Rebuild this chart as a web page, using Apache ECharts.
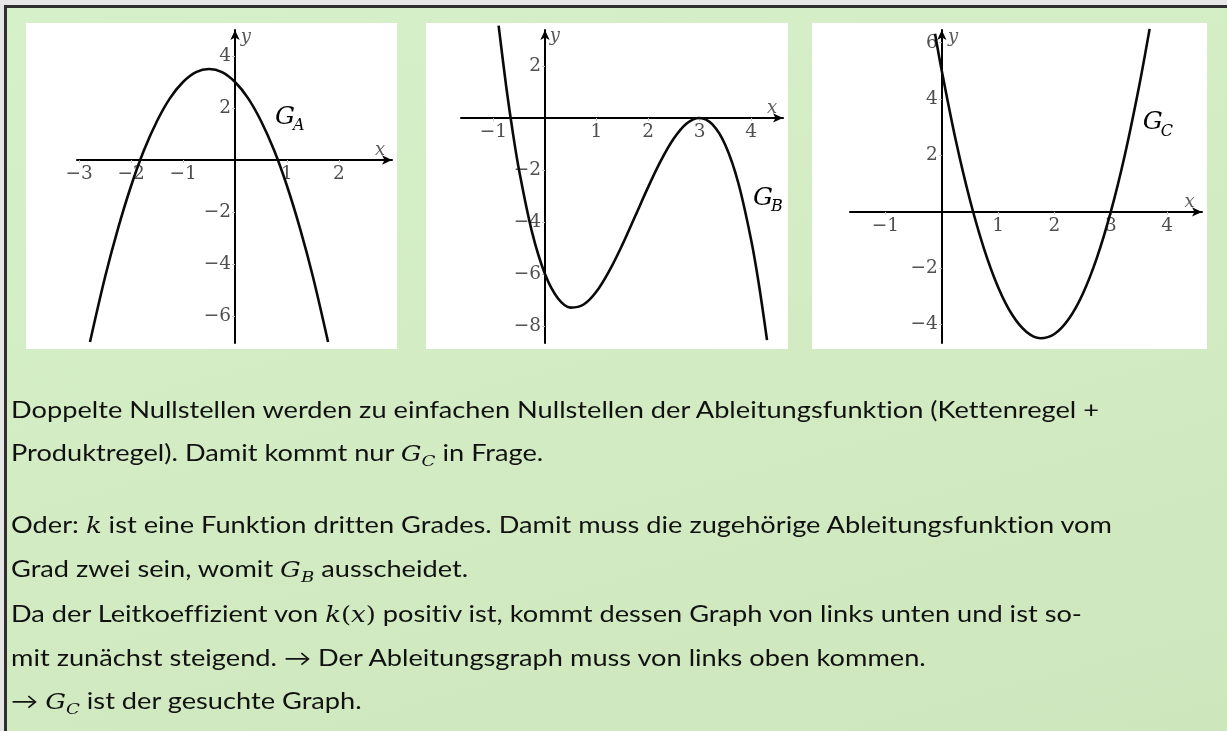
<!DOCTYPE html>
<html>
<head>
<meta charset="utf-8">
<script src="https://cdn.jsdelivr.net/npm/echarts@6/dist/echarts.min.js"></script>
<style>
  html, body { margin: 0; padding: 0; width: 1227px; height: 731px; overflow: hidden; background: #e6e6e6; }
  #frame {
    position: absolute; left: 4px; top: 5px; right: 0; bottom: 0;
    border-left: 3px solid #2f2f2f; border-top: 3px solid #2f2f2f;
    background: linear-gradient(165deg, #d6f0ca 0%, #d2ebc2 55%, #cee6bc 100%);
  }
  .panel { position: absolute; top: 23px; height: 326px; background: #fff; }
  #chart { position: absolute; left: 0; top: 0; width: 1227px; height: 731px; }
  .line {
    position: absolute; left: 11px; white-space: nowrap;
    font-family: Lato, 'Open Sans', sans-serif; font-size: 22.5px; line-height: 30px;
    font-variant-ligatures: none; font-feature-settings: "liga" 0, "dlig" 0;
    color: #111; transform-origin: 0 0;
  }
  .m { font-family: 'DejaVu Serif', serif; font-style: italic; font-size: 21.5px; }
  .u { font-style: normal; }
  .m sub { font-size: 15px; vertical-align: -5px; line-height: 0; }
</style>
</head>
<body>
<div id="frame"></div>
<div class="panel" style="left:26px;width:371px"></div>
<div class="panel" style="left:426px;width:362px"></div>
<div class="panel" style="left:812px;width:395px"></div>
<div id="chart"></div>

<div class="line" style="top:395px">Doppelte Nullstellen werden zu einfachen Nullstellen der Ableitungsfunktion (Kettenregel +</div>
<div class="line" style="top:438px">Produktregel). Damit kommt nur <span class="m">G<sub>C</sub></span> in Frage.</div>
<div class="line" style="top:510px">Oder: <span class="m">k</span> ist eine Funktion dritten Grades. Damit muss die zugehörige Ableitungsfunktion vom</div>
<div class="line" style="top:554px">Grad zwei sein, womit <span class="m">G<sub>B</sub></span> ausscheidet.</div>
<div class="line" style="top:599px">Da der Leitkoeffizient von <span class="m">k<span class="u">(</span>x<span class="u">)</span></span> positiv ist, kommt dessen Graph von links unten und ist so-</div>
<div class="line" style="top:643px">mit zunächst steigend. → Der Ableitungsgraph muss von links oben kommen.</div>
<div class="line" style="top:686px">→ <span class="m">G<sub>C</sub></span> ist der gesuchte Graph.</div>

<script>
// Curve G_A: downward parabola
const xsA = [-2.79, -2.5, -2.25, -2.0, -1.75, -1.5, -1.25, -1.0, -0.75, -0.5, -0.25, 0, 0.25, 0.5, 0.75, 1.0, 1.25, 1.5, 1.79];
const ysA = [-7.0, -4.5, -2.63, -1.0, 0.38, 1.5, 2.38, 3.0, 3.38, 3.5, 3.38, 3.0, 2.38, 1.5, 0.38, -1.0, -2.63, -4.5, -7.0];

// Curve G_B: cubic with a double zero at x = 3
const xsB = [-0.9, -0.75, -0.625, -0.5, -0.25, 0, 0.25, 0.5, 0.75, 1.0, 1.25, 1.5, 1.75, 2.0, 2.25, 2.5, 2.75, 3.0, 3.25, 3.5, 3.75, 4.0, 4.15, 4.31];
const ysB = [3.55, 1.17, -0.55, -2.04, -4.40, -6.0, -6.93, -7.29, -7.17, -6.67, -5.87, -4.88, -3.78, -2.67, -1.64, -0.79, -0.21, 0, -0.25, -1.04, -2.48, -4.67, -6.37, -8.54];

// Curve G_C: upward parabola with zeros near 0.56 and 3
const xsC = [-0.12, 0, 0.25, 0.5, 0.75, 1.0, 1.25, 1.5, 1.75, 2.0, 2.25, 2.5, 2.75, 3.0, 3.25, 3.5, 3.69];
const ysC = [6.32, 5.0, 2.52, 0.42, -1.31, -2.67, -3.65, -4.25, -4.48, -4.33, -3.81, -2.92, -1.65, 0, 2.02, 4.42, 6.49];

// Tick labels of each coordinate system
const xTicksA = [-3, -2, -1, 1, 2];
const yTicksA = [4, 2, -2, -4, -6];
const xTicksB = [-1, 1, 2, 3, 4];
const yTicksB = [2, -2, -4, -6, -8];
const xTicksC = [-1, 1, 2, 3, 4];
const yTicksC = [6, 4, 2, -2, -4];

// Graph names
const graphNames = ['A', 'B', 'C'];

const pairs = (xs, ys) => xs.map((x, i) => [x, ys[i]]);
const fmt = v => (v < 0 ? '\u2212' + (-v) : String(v));

const labelStyle = { fontFamily: 'DejaVu Serif', fontSize: 18.5, color: '#4f4f4f' };

// Grid boxes and axis ranges of the three coordinate systems
const grids = [
  { left: 77, top: 30, width: 315, height: 313, x: [-3.04, 3.02], y: [-7.04, 5.0], xt: xTicksA, yt: yTicksA },
  { left: 461, top: 30, width: 322, height: 313, x: [-1.63, 4.62], y: [-8.65, 3.38], xt: xTicksB, yt: yTicksB },
  { left: 850, top: 30, width: 352, height: 313, x: [-1.63, 4.62], y: [-4.65, 6.45], xt: xTicksC, yt: yTicksC }
];

function axisOf(dim, gi, g) {
  const range = dim === 'x' ? g.x : g.y;
  const other = dim === 'x' ? g.y : g.x;
  const len = dim === 'x' ? g.height : g.width;
  // shift the axis from the grid edge onto the zero line of the other axis
  const offset = -len * (0 - other[0]) / (other[1] - other[0]);
  const ticks = dim === 'x' ? g.xt : g.yt;
  return {
    type: 'value', gridIndex: gi, min: range[0], max: range[1],
    position: dim === 'x' ? 'bottom' : 'left', offset: offset,
    axisLine: { onZero: false, lineStyle: { color: '#000', width: 2 }, symbol: ['none', 'arrow'], symbolSize: [7, 10] },
    axisTick: { show: true, customValues: ticks, length: 3, lineStyle: { color: '#c4c4c4', width: 1 } },
    axisLabel: Object.assign({ customValues: ticks, formatter: fmt, margin: dim === 'x' ? 5 : 4 }, labelStyle),
    splitLine: { show: false }
  };
}
function curve(gi, xs, ys) {
  return {
    type: 'line', xAxisIndex: gi, yAxisIndex: gi, data: pairs(xs, ys),
    showSymbol: false, symbol: 'none', smooth: 0.35, clip: false, silent: true,
    lineStyle: { color: '#0a0a0a', width: 2.6 }, z: 5
  };
}

const option = {
  animation: false,
  backgroundColor: 'transparent',
  grid: grids.map(g => ({ left: g.left, top: g.top, width: g.width, height: g.height, containLabel: false, outerBoundsMode: 'none', show: false })),
  xAxis: grids.map((g, i) => axisOf('x', i, g)),
  yAxis: grids.map((g, i) => axisOf('y', i, g)),
  series: [curve(0, xsA, ysA), curve(1, xsB, ysB), curve(2, xsC, ysC)]
};

const chart = echarts.init(document.getElementById('chart'), null, { renderer: 'canvas' });
chart.setOption(option);

// Axis names and graph names, anchored at data positions of each grid
const axisNameAt = [
  { x: [2.79, 0.38], y: [0.21, 4.73] },
  { x: [4.41, 0.38], y: [0.19, 3.12] },
  { x: [4.40, 0.35], y: [0.20, 6.20] }
];
const graphNameAt = [[0.77, 1.65], [4.04, -3.08], [3.57, 3.16]];

const graphics = [];
axisNameAt.forEach((a, gi) => {
  const px = chart.convertToPixel({ gridIndex: gi }, a.x);
  const py = chart.convertToPixel({ gridIndex: gi }, a.y);
  graphics.push({ type: 'text', x: px[0], y: px[1], z: 10,
    style: { text: 'x', font: 'italic 18px "DejaVu Serif"', fill: '#5a5a5a', align: 'center', verticalAlign: 'middle' } });
  graphics.push({ type: 'text', x: py[0], y: py[1], z: 10,
    style: { text: 'y', font: 'italic 18px "DejaVu Serif"', fill: '#5a5a5a', align: 'center', verticalAlign: 'middle' } });
});
graphNameAt.forEach((p, gi) => {
  const q = chart.convertToPixel({ gridIndex: gi }, p);
  graphics.push({ type: 'text', x: q[0], y: q[1], z: 10,
    style: { text: 'G', font: 'italic 25px "DejaVu Serif"', fill: '#000', align: 'left', verticalAlign: 'middle' } });
  graphics.push({ type: 'text', x: q[0] + 18, y: q[1] + 9, z: 10,
    style: { text: graphNames[gi], font: 'italic 16px "DejaVu Serif"', fill: '#000', align: 'left', verticalAlign: 'middle' } });
});
chart.setOption({ graphic: graphics });

// Fit the paragraph lines to the text block width
function fitLines() {
  const lines = document.querySelectorAll('.line');
  lines.forEach(l => { l.style.transform = 'none'; });
  const w = lines[0].getBoundingClientRect().width;
  const s = 1088 / w;
  lines.forEach(l => { l.style.transform = 'scaleX(' + s + ')'; });
}
fitLines();
if (document.fonts && document.fonts.ready) document.fonts.ready.then(fitLines);
</script>
</body>
</html>
